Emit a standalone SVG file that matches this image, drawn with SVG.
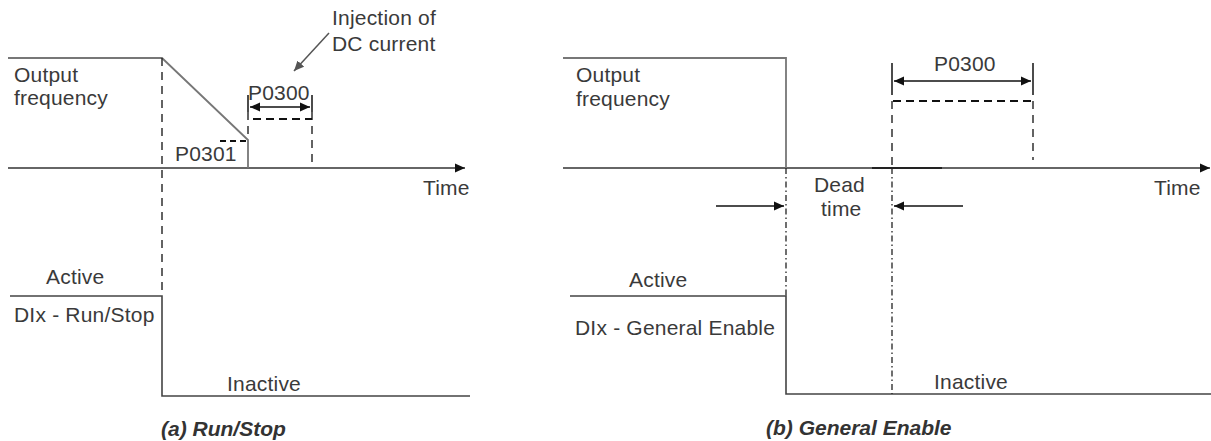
<svg xmlns="http://www.w3.org/2000/svg" width="1211" height="441" viewBox="0 0 1211 441">
<style>
text{font-family:"Liberation Sans",Arial,sans-serif;font-size:21px;fill:#3a3a3a;letter-spacing:0.2px}
.cap{font-weight:bold;font-style:italic;fill:#333;letter-spacing:0}
.sig{fill:none;stroke:#444;stroke-width:1.6}
.sigl{fill:none;stroke:#777;stroke-width:1.8}
.ax{fill:none;stroke:#333;stroke-width:1.5}
.dash{fill:none;stroke:#222;stroke-width:1.4;stroke-dasharray:8 6}
.dd{fill:none;stroke:#222;stroke-width:1.3;stroke-dasharray:6 3 1.5 3}
.hd{fill:none;stroke:#111;stroke-width:2;stroke-dasharray:8 5}
.dim{fill:none;stroke:#111;stroke-width:1.5}
</style>
<defs>
<marker id="ah" viewBox="0 0 10 10" refX="10" refY="5" markerWidth="10" markerHeight="10" markerUnits="userSpaceOnUse" orient="auto-start-reverse">
<path d="M0,0.5 L10,5 L0,9.5 z" fill="#111"/>
</marker>
<marker id="ahg" viewBox="0 0 10 10" refX="10" refY="5" markerWidth="10" markerHeight="10" markerUnits="userSpaceOnUse" orient="auto">
<path d="M0,0.5 L10,5 L0,9.5 z" fill="#555"/>
</marker>
</defs>
<g id="connectors">
<!-- panel a -->
<line class="ax" x1="8" y1="168" x2="465" y2="168" marker-end="url(#ah)"/>
<path class="sigl" d="M8,58 H162 L248,140 V168"/>
<line class="dash" x1="162" y1="58" x2="162" y2="296"/>
<path class="sig" d="M10,296 H162 V396 H470"/>
<line class="dim" x1="248" y1="95" x2="248" y2="112"/>
<line class="dash" x1="248" y1="112" x2="248" y2="140"/>
<line class="dim" x1="312" y1="95" x2="312" y2="112"/>
<line class="dash" x1="312" y1="112" x2="312" y2="164"/>
<line class="dim" x1="250" y1="107" x2="310" y2="107" marker-start="url(#ah)" marker-end="url(#ah)"/>
<line class="hd" x1="253" y1="119" x2="312" y2="119"/>
<line class="hd" x1="220" y1="141" x2="248" y2="141" style="stroke-dasharray:6 4"/>
<line x1="329" y1="33" x2="294" y2="71" stroke="#555" stroke-width="1.5" marker-end="url(#ahg)"/>
<!-- panel b -->
<line class="ax" x1="563" y1="168" x2="1210" y2="168" marker-end="url(#ah)"/>
<path class="sigl" d="M563,58 H786 V168"/>
<line x1="872" y1="168" x2="942" y2="168" stroke="#222" stroke-width="2"/>
<line class="dd" x1="786" y1="168" x2="786" y2="296"/>
<path class="sig" d="M570,296 H786 V394 H1211"/>
<line class="dim" x1="892" y1="63" x2="892" y2="95"/>
<line class="dash" x1="892" y1="101" x2="892" y2="168"/>
<line class="dd" x1="892" y1="168" x2="892" y2="394"/>
<line class="dim" x1="1033" y1="63" x2="1033" y2="95"/>
<line class="dash" x1="1033" y1="101" x2="1033" y2="160"/>
<line class="dim" x1="894" y1="81" x2="1031" y2="81" marker-start="url(#ah)" marker-end="url(#ah)"/>
<line class="hd" x1="893" y1="101" x2="1033" y2="101"/>
<line class="dim" x1="716" y1="206" x2="784" y2="206" marker-end="url(#ah)"/>
<line class="dim" x1="963" y1="206" x2="894" y2="206" marker-end="url(#ah)"/>
</g>
<g id="panel-a">
<text x="14" y="82">Output</text>
<text x="14" y="105">frequency</text>
<text x="332" y="25">Injection of</text>
<text x="332" y="51">DC current</text>
<text x="248" y="100">P0300</text>
<text x="175" y="161">P0301</text>
<text x="423" y="195">Time</text>
<text x="46" y="284">Active</text>
<text x="14" y="322">DIx - Run/Stop</text>
<text x="227" y="391">Inactive</text>
<text class="cap" x="161" y="436">(a) Run/Stop</text>
</g>
<g id="panel-b">
<text x="576" y="82">Output</text>
<text x="576" y="106">frequency</text>
<text x="934" y="71">P0300</text>
<text x="1154" y="195">Time</text>
<text x="814" y="192">Dead</text>
<text x="821" y="216">time</text>
<text x="629" y="287">Active</text>
<text x="575" y="335">DIx - General Enable</text>
<text x="934" y="389">Inactive</text>
<text class="cap" x="766" y="435">(b) General Enable</text>
</g>
</svg>
